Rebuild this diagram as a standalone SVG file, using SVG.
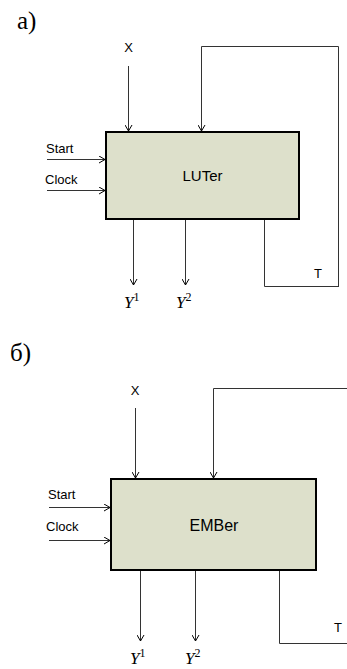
<svg xmlns="http://www.w3.org/2000/svg" width="347" height="669" viewBox="0 0 347 669">
<style>
.lbl{font-family:"Liberation Sans",Arial,sans-serif;font-size:13px;fill:#000}
.big{font-family:"Liberation Sans",Arial,sans-serif;font-size:15px;fill:#000}
.hdr{font-family:"Liberation Serif","Times New Roman",serif;font-size:25px;fill:#000}
.y{font-family:"Liberation Serif","Times New Roman",serif;font-style:italic;font-size:17px;fill:#000}
.sup{font-family:"Liberation Serif","Times New Roman",serif;font-style:normal;font-size:12px}
.box{fill:#dde0cb;stroke:#000;stroke-width:2}
.ln{fill:none;stroke:#333;stroke-width:1}
</style>
<defs>
<marker id="ah" viewBox="0 0 8 8" refX="7" refY="4" markerWidth="8" markerHeight="8" markerUnits="userSpaceOnUse" orient="auto">
<path d="M1,0.5 L7,4 L1,7.5" fill="none" stroke="#000" stroke-width="1"/>
</marker>
</defs>
<text class="hdr" x="17" y="29">а)</text>
<text class="hdr" x="10" y="361">б)</text>
<g id="connectors">
<line class="ln" x1="128.5" y1="66" x2="128.5" y2="131" marker-end="url(#ah)"/>
<polyline class="ln" points="338.5,287 338.5,46.5 201.5,46.5 201.5,131" marker-end="url(#ah)"/>
<line class="ln" x1="47" y1="159.5" x2="105" y2="159.5" marker-end="url(#ah)"/>
<line class="ln" x1="47" y1="190.5" x2="105" y2="190.5" marker-end="url(#ah)"/>
<line class="ln" x1="133.5" y1="220" x2="133.5" y2="285" marker-end="url(#ah)"/>
<line class="ln" x1="185.5" y1="220" x2="185.5" y2="285" marker-end="url(#ah)"/>
<polyline class="ln" points="264.5,220 264.5,286.5 338.5,286.5"/>
<line class="ln" x1="135.5" y1="408" x2="135.5" y2="478" marker-end="url(#ah)"/>
<polyline class="ln" points="347,388.5 213.5,388.5 213.5,478" marker-end="url(#ah)"/>
<line class="ln" x1="49" y1="507.5" x2="110" y2="507.5" marker-end="url(#ah)"/>
<line class="ln" x1="49" y1="540.5" x2="110" y2="540.5" marker-end="url(#ah)"/>
<line class="ln" x1="140.5" y1="571" x2="140.5" y2="641" marker-end="url(#ah)"/>
<line class="ln" x1="195.5" y1="571" x2="195.5" y2="641" marker-end="url(#ah)"/>
<polyline class="ln" points="279.5,571 279.5,643.5 347,643.5"/>
</g>
<g id="luter">
<rect class="box" x="106" y="132" width="193" height="87"/>
<text class="big" x="202.5" y="181" text-anchor="middle">LUTer</text>
</g>
<g id="ember">
<rect class="box" x="111" y="479" width="205" height="91"/>
<text class="big" x="214" y="531" text-anchor="middle" style="font-size:16px">EMBer</text>
</g>
<g id="labels-a">
<text class="lbl" x="128.5" y="52" text-anchor="middle">X</text>
<text class="lbl" x="46" y="153">Start</text>
<text class="lbl" x="45" y="184">Clock</text>
<text class="lbl" x="318" y="278" text-anchor="middle">T</text>
<text class="y" x="124" y="308">Y<tspan class="sup" dy="-7">1</tspan></text>
<text class="y" x="176" y="308">Y<tspan class="sup" dy="-7">2</tspan></text>
</g>
<g id="labels-b">
<text class="lbl" x="135" y="395" text-anchor="middle">X</text>
<text class="lbl" x="48" y="499">Start</text>
<text class="lbl" x="46" y="531">Clock</text>
<text class="lbl" x="338" y="632" text-anchor="middle">T</text>
<text class="y" x="130" y="664">Y<tspan class="sup" dy="-7">1</tspan></text>
<text class="y" x="185" y="664">Y<tspan class="sup" dy="-7">2</tspan></text>
</g>
</svg>
